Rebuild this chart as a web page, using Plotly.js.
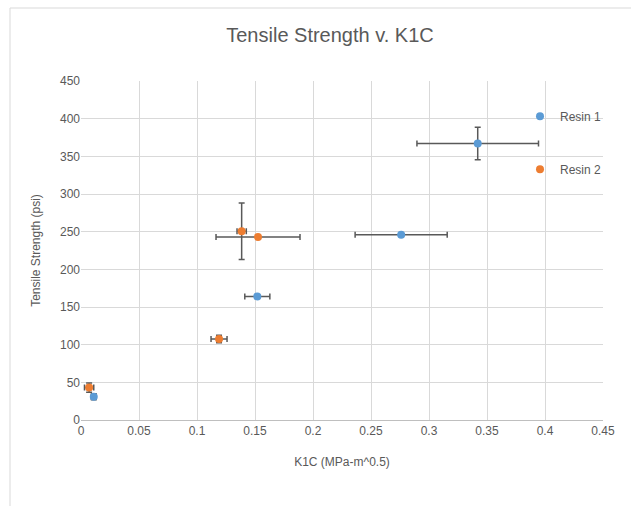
<!DOCTYPE html>
<html><head><meta charset="utf-8">
<script src="https://cdn.plot.ly/plotly-3.0.1.min.js"></script>
<style>html,body{margin:0;padding:0;background:#fff;}#chart{width:631px;height:506px;}</style>
</head><body><div id="chart"></div>
<script>
const resin1Names = "Resin 1";
const resin1K1C = [0.011, 0.152, 0.276, 0.342];
const resin1Tensile = [31, 164, 246, 367];
const resin1K1CErr = [0.002, 0.0108, 0.0397, 0.0524];
const resin1TensileErr = [4, 2, 0, 21.5];

const resin2Names = "Resin 2";
const resin2K1C = [0.007, 0.119, 0.1385, 0.1526];
const resin2Tensile = [43, 107.5, 250.5, 243];
const resin2K1CErr = [0.004, 0.0069, 0.004, 0.0362];
const resin2TensileErr = [6, 5, 37.4, 0];

const errColor = '#595959';
function trace(name, x, y, ex, ey, color, grp) {
  return {
    type: 'scatter', mode: 'markers', name: name, x: x, y: y,
    legendgroup: grp,
    marker: {color: color, size: 8},
    error_x: {type: 'data', array: ex, visible: true, color: errColor, thickness: 1.5, width: 3},
    error_y: {type: 'data', array: ey, visible: true, color: errColor, thickness: 1.5, width: 3},
    cliponaxis: false
  };
}
const data = [
  trace(resin1Names, resin1K1C, resin1Tensile, resin1K1CErr, resin1TensileErr, '#5B9BD5', 'g1'),
  trace(resin2Names, resin2K1C, resin2Tensile, resin2K1CErr, resin2TensileErr, '#ED7D31', 'g2')
];
const font = 'Liberation Sans, Arial, sans-serif';
const layout = {
  width: 631, height: 506,
  margin: {l: 81, r: 28, t: 81, b: 86},
  paper_bgcolor: '#fff', plot_bgcolor: '#fff',
  font: {family: font, color: '#595959', size: 12},
  title: {text: 'Tensile Strength v. K1C', font: {family: font, size: 20, color: '#595959'}, x: 0.523, xanchor: 'center', y: 0.93, yanchor: 'middle'},
  xaxis: {
    range: [0, 0.45], dtick: 0.05, tick0: 0,
    showgrid: true, gridcolor: '#d9d9d9', gridwidth: 1,
    zeroline: false, showline: true, linecolor: '#bfbfbf', linewidth: 1,
    ticks: '', ticklen: 0, tickfont: {size: 12, color: '#595959'},
    title: {text: 'K1C (MPa-m^0.5)', font: {size: 12, color: '#595959'}, standoff: 20}
  },
  yaxis: {
    range: [0, 450], dtick: 50, tick0: 0,
    showgrid: true, gridcolor: '#d9d9d9', gridwidth: 1,
    zeroline: false, showline: false,
    ticks: '', tickfont: {size: 12, color: '#595959'},
    title: {text: 'Tensile Strength (psi)', font: {size: 12, color: '#595959'}, standoff: 16}
  },
  showlegend: true,
  legend: {
    x: 0.841, xanchor: 'left', y: 0.939, yanchor: 'top',
    bgcolor: 'rgba(0,0,0,0)', font: {size: 12, color: '#595959'},
    traceorder: 'grouped', tracegroupgap: 34, itemwidth: 30
  },
  shapes: [{
    type: 'rect', xref: 'paper', yref: 'paper',
    x0: (10 - 81) / 522, x1: 1.2, y0: -0.5, y1: (420 - 8) / 339,
    line: {color: '#d9d9d9', width: 1}, fillcolor: 'rgba(0,0,0,0)', layer: 'below'
  }]
};
Plotly.newPlot('chart', data, layout, {displayModeBar: false, staticPlot: true});
</script>
</body></html>
